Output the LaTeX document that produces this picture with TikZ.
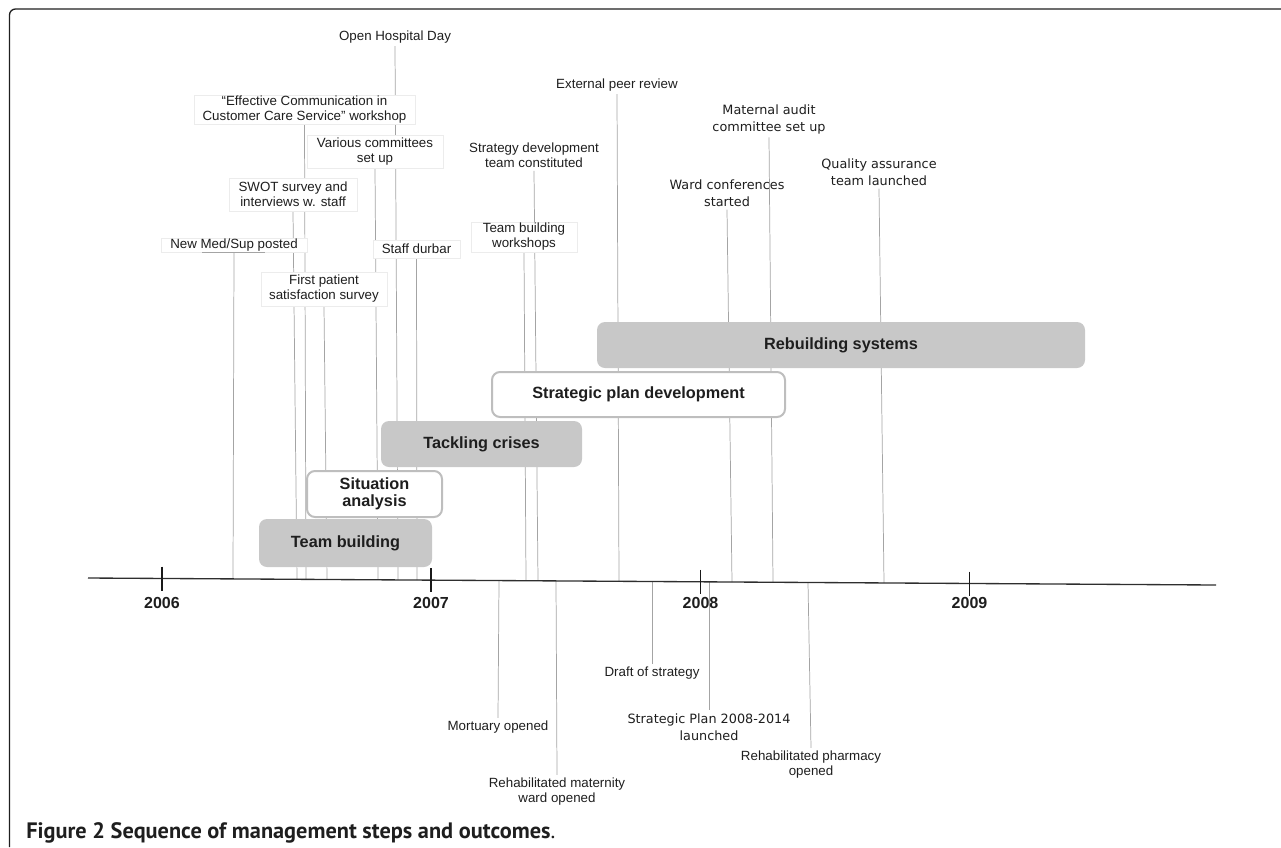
\documentclass[tikz,border=0pt]{standalone}
\usepackage{fontspec}
\usepackage{graphicx}
\setmainfont{Liberation Sans}
\newfontfamily\lucida{DejaVu Sans}
\newfontfamily\capfont{PT Sans}
\newdimen\px \px=0.75pt
\definecolor{phasegray}{HTML}{C8C8C8}
\definecolor{bordergray}{HTML}{BEBEBE}
\definecolor{linegray}{HTML}{A4A4A4}
\definecolor{axisgray}{HTML}{2E2E2E}
\definecolor{ink}{HTML}{1E1E1E}
\definecolor{faint}{HTML}{ECECEC}
\pgfdeclarelayer{bg}
\pgfsetlayers{bg,main}
\tikzset{
  txt/.style={font=\fontsize{10}{11.25}\selectfont, text=ink, align=center, inner sep=2pt},
  ltxt/.style={font=\lucida\fontsize{9.6}{13}\selectfont, text=ink, align=center, inner sep=2pt},
  lbox/.style={txt, fill=white, draw=faint, line width=0.6pt, inner sep=0pt},
  phase/.style={rounded corners=8\px, fill=phasegray, font=\fontsize{12.2}{12.75}\selectfont\bfseries, text=ink, align=center, inner sep=0pt},
  phasew/.style={phase, fill=white, draw=bordergray, line width=1.5pt},
  conn/.style={draw=linegray, line width=0.55pt},
  year/.style={font=\fontsize{12}{14}\selectfont\bfseries, text=ink, inner sep=0pt},
  frame/.style={draw=black!88, line width=1pt, rounded corners=6\px},
  axisline/.style={draw=axisgray, line width=1pt},
  tick/.style={draw=black!90, line width=1.2pt}
}
\begin{document}
\begin{tikzpicture}[x=0.75pt,y=-0.75pt]
\useasboundingbox (0,0) rectangle (1281,847);
% frame
\draw[frame] (9.5,847) -- (9.5,9) -- (1281,9);
% axis
\coordinate (axL) at (88,578);
\coordinate (axR) at (1216,585);
\draw[axisline] (axL) -- (axR);
\foreach \x/\y in {162/578.5, 431/580.1, 700.5/581.8, 969.5/583.5}
  \draw[tick] (\x,\y-12) -- (\x,\y+12);
\node[year] (y2006) at (162,603) {2006};
\node[year] (y2007) at (431,603) {2007};
\node[year] (y2008) at (700.5,603) {2008};
\node[year] (y2009) at (969.5,603) {2009};

% axis anchor points
\coordinate (a-nms) at (233,578.9);
\coordinate (a-swot) at (297,579.3);
\coordinate (a-eff) at (306,579.35);
\coordinate (a-fps) at (327,579.5);
\coordinate (a-var) at (378,579.8);
\coordinate (a-ohd) at (398,579.9);
\coordinate (a-sd) at (417,580.0);
\coordinate (a-tbw) at (526,580.7);
\coordinate (a-sdt) at (538,580.8);
\coordinate (a-epr) at (619,581.3);
\coordinate (a-wcs) at (732,582.0);
\coordinate (a-mac) at (773,582.25);
\coordinate (a-qat) at (884,582.9);
\coordinate (a-mo) at (499,580.6);
\coordinate (a-rmw) at (556,580.9);
\coordinate (a-dos) at (652,581.5);
\coordinate (a-spl) at (709,581.85);
\coordinate (a-rpo) at (808,582.5);

% phase boxes
\node[phase, minimum width=173\px, minimum height=48\px] (tb) at (345.5,543) {Team building};
\node[phasew, minimum width=135\px, minimum height=46\px] (sa) at (374.5,494) {Situation\\analysis};
\node[phase, minimum width=201\px, minimum height=46\px] (tc) at (481.5,444) {Tackling crises};
\node[phasew, minimum width=293\px, minimum height=45\px] (spd) at (638.5,394.5) {Strategic plan development};
\node[phase, minimum width=488\px, minimum height=46\px] (rs) at (841,345) {Rebuilding systems};

% event labels above
\node[txt] (ohd) at (395,37) {Open Hospital Day};
\node[lbox, minimum width=221\px, minimum height=29\px] (eff) at (304.5,109.5) {“Effective Communication in\\Customer Care Service” workshop};
\node[lbox, minimum width=136\px, minimum height=33\px] (var) at (375,151.5) {Various committees\\set up};
\node[lbox, minimum width=128\px, minimum height=33\px] (swot) at (293,194.5) {SWOT survey and\\interviews w. staff};
\node[lbox, minimum width=146\px, minimum height=14\px] (nms) at (234,245) {New Med/Sup posted};
\node[lbox, minimum width=87\px, minimum height=18\px] (sd) at (416.5,249) {Staff durbar};
\node[lbox, minimum width=126\px, minimum height=34\px] (fps) at (324,289) {First patient\\satisfaction survey};
\node[lbox, minimum width=106\px, minimum height=30\px] (tbw) at (524,237) {Team building\\workshops};
\node[txt] (epr) at (617,85) {External peer review};
\node[ltxt] (mac) at (769,119.5) {Maternal audit\\committee set up};
\node[txt] (sdt) at (534,155.5) {Strategy development\\team constituted};
\node[ltxt] (wcs) at (727,193) {Ward conferences\\started};
\node[ltxt] (qat) at (879,172) {Quality assurance\\team launched};
\draw[linegray, line width=0.6pt] ([xshift=-32\px]nms.south) -- ([xshift=31\px]nms.south);

% event labels below
\node[txt] (mo) at (498,727) {Mortuary opened};
\node[txt] (rmw) at (557,791.5) {Rehabilitated maternity\\ward opened};
\node[txt] (dos) at (652,673) {Draft of strategy};
\node[ltxt] (spl) at (709,727) {Strategic Plan 2008-2014\\launched};
\node[txt] (rpo) at (811,764.5) {Rehabilitated pharmacy\\opened};

% connectors behind everything
\begin{pgfonlayer}{bg}
\draw[conn] (ohd.south) -- (a-ohd);
\draw[conn] (eff.south) -- (a-eff);
\draw[conn] (var.south) -- (a-var);
\draw[conn] (swot.south) -- (a-swot);
\draw[conn] (nms.south) -- (a-nms);
\draw[conn] (sd.south) -- (a-sd);
\draw[conn] (fps.south) -- (a-fps);
\draw[conn] (tbw.south) -- (a-tbw);
\draw[conn] (sdt.south) -- (a-sdt);
\draw[conn] (epr.south) -- (a-epr);
\draw[conn] (mac.south) -- (a-mac);
\draw[conn] (wcs.south) -- (a-wcs);
\draw[conn] (qat.south) -- (a-qat);
\draw[conn] (a-mo) -- (mo.north);
\draw[conn] (a-rmw) -- (rmw.north);
\draw[conn] (a-dos) -- (dos.north);
\draw[conn] (a-spl) -- (spl.north);
\draw[conn] (a-rpo) -- (rpo.north);
\end{pgfonlayer}

% caption
\node[anchor=base west, inner sep=0pt, text=ink] (cap) at (26,838) {\resizebox{529\px}{!}{\capfont\bfseries Figure 2 Sequence of management steps and outcomes\mdseries.}};
\end{tikzpicture}
\end{document}
